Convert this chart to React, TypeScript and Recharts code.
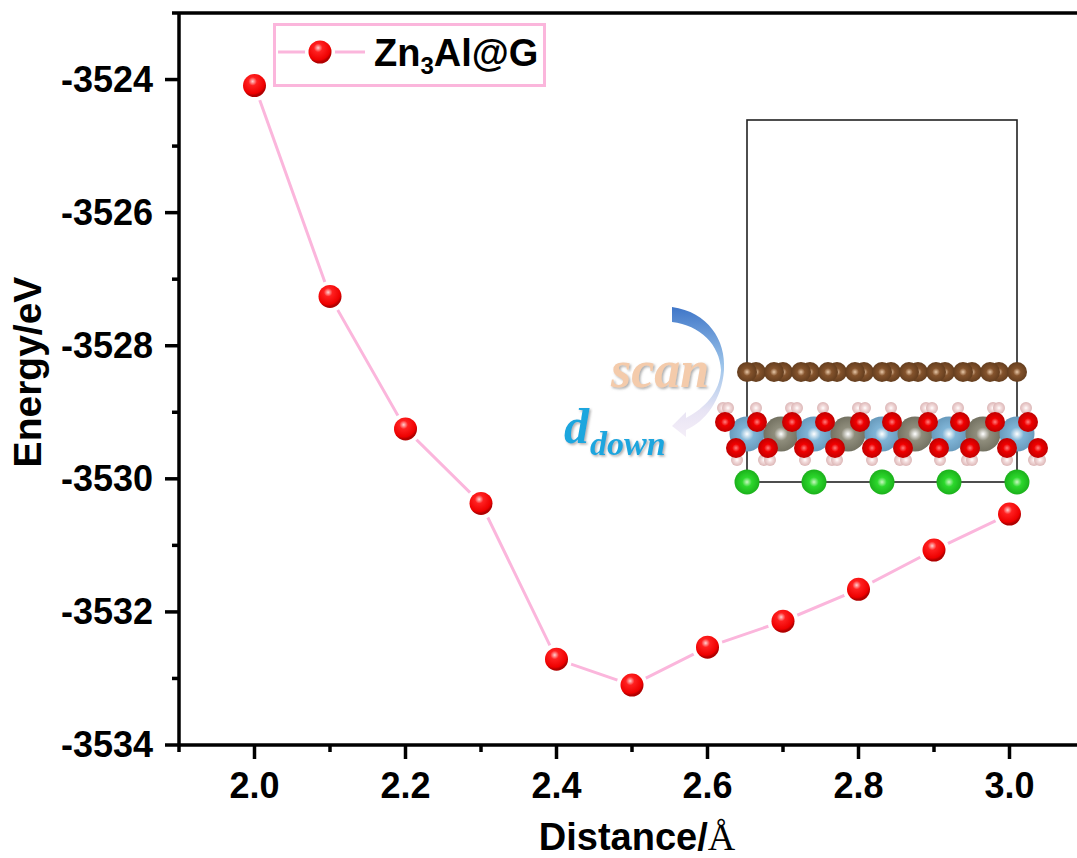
import React from 'react';
import { LineChart, Line, XAxis, YAxis, ReferenceLine, Legend, Label } from 'recharts';

const distances = [2.0, 2.1, 2.2, 2.3, 2.4, 2.5, 2.6, 2.7, 2.8, 2.9, 3.0];
const energies = [-3524.09, -3527.26, -3529.25, -3530.37, -3532.71, -3533.1, -3532.53, -3532.14, -3531.66, -3531.07, -3530.53];
const xTicks = [1.9, 2.0, 2.1, 2.2, 2.3, 2.4, 2.5, 2.6, 2.7, 2.8, 2.9, 3.0, 3.1];
const xMajor = ['2.0', '2.2', '2.4', '2.6', '2.8', '3.0'];
const yTicks = [-3534, -3533, -3532, -3531, -3530, -3529, -3528, -3527, -3526, -3525, -3524, -3523];
const yMajor = [-3534, -3532, -3530, -3528, -3526, -3524];
const seriesName = 'Zn3Al@G';

const data = distances.map((d, i) => ({ d, e: energies[i] }));

const FONT = '"Liberation Sans", Arial, sans-serif';
const PINK = '#fbb6dc';
const LABEL_SIZE = 36;
const MARKER_R = 11.5;

const XTick = (props: any) => {
  const { x, y, payload } = props;
  const label = payload.value.toFixed(1);
  const major = xMajor.includes(label);
  return (
    <g>
      <line x1={x} x2={x} y1={y} y2={y + (major ? 14 : 7)} stroke="#000" strokeWidth={3.5} />
      {major && (
        <text x={x} y={y + 53} textAnchor="middle" fontFamily={FONT} fontWeight="bold" fontSize={LABEL_SIZE} fill="#000">
          {label}
        </text>
      )}
    </g>
  );
};

const YTick = (props: any) => {
  const { x, y, payload } = props;
  const major = yMajor.includes(payload.value);
  return (
    <g>
      <line x1={x} x2={x - (major ? 14 : 7)} y1={y} y2={y} stroke="#000" strokeWidth={3.5} />
      {major && (
        <text x={x - 26} y={y + 12} textAnchor="end" fontFamily={FONT} fontWeight="bold" fontSize={LABEL_SIZE} fill="#000">
          {payload.value}
        </text>
      )}
    </g>
  );
};

const Sphere = ({ cx, cy }: any) => (
  <g>
    <circle cx={cx} cy={cy} r={MARKER_R + 4} fill="#fff" />
    <circle cx={cx} cy={cy} r={MARKER_R} fill="url(#redBall)" />
  </g>
);

const LegendBox = () => (
  <svg width={274} height={66} style={{ display: 'block' }}>
    <defs>
      <radialGradient id="redBallLegend" cx="0.42" cy="0.32" r="0.62">
        <stop offset="0" stopColor="#ffd0d0" />
        <stop offset="0.3" stopColor="#ff2020" />
        <stop offset="0.85" stopColor="#ee0000" />
        <stop offset="1" stopColor="#b00000" />
      </radialGradient>
    </defs>
    <rect x={1.5} y={1.5} width={270} height={61} fill="#fff" stroke={PINK} strokeWidth={3} />
    <line x1={5} x2={92} y1={29} y2={29} stroke={PINK} strokeWidth={3} />
    <circle cx={47} cy={29} r={15} fill="#fff" />
    <circle cx={47} cy={29} r={MARKER_R} fill="url(#redBallLegend)" />
    <text x={101} y={43} fontFamily={FONT} fontWeight="bold" fontSize={38} fill="#000">
      Zn<tspan fontSize={24} dy={8}>3</tspan><tspan dy={-8}>Al@G</tspan>
    </text>
  </svg>
);

// structure inset, picture coordinates
const carbonX = [0, 27, 54, 81, 108, 135, 162, 189, 216, 243, 270];
const metalX = [747, 781, 814, 848, 882, 915, 949, 983, 1017];
const greenX = [747, 814, 882, 949, 1017];
const oxyUp = [725, 757, 792, 825, 860, 892, 928, 960, 995, 1028];
const oxyDown = [736, 768, 804, 835, 872, 903, 939, 970, 1007, 1038];
const hydUp = [723, 728, 756, 791, 797, 823, 858, 865, 891, 926, 932, 958, 993, 999, 1026];
const hydDown = [737, 764, 770, 805, 832, 837, 872, 900, 906, 940, 967, 972, 1007, 1034, 1040];

const grad = (id: string, hi: string, mid: string, lo: string) => (
  <radialGradient id={id} cx="0.5" cy="0.5" r="0.55">
    <stop offset="0" stopColor={hi} />
    <stop offset="0.35" stopColor={mid} />
    <stop offset="1" stopColor={lo} />
  </radialGradient>
);

const Inset = () => (
  <svg width={1077} height={858} style={{ position: 'absolute', left: 0, top: 0, pointerEvents: 'none' }}>
    <defs>
      {grad('cBall', '#e8c8a8', '#84532c', '#5f3a1c')}
      {grad('blueBall', '#ffffff', '#7fb4d6', '#6496b8')}
      {grad('greyBall', '#ffffff', '#8f8d7c', '#6f6d5d')}
      {grad('greenBall', '#c8f8c0', '#2cd82c', '#18aa18')}
      {grad('oBall', '#ff8080', '#f00000', '#b80000')}
      {grad('hBall', '#ffffff', '#f3dcdc', '#d8b0b0')}
      <linearGradient id="arrowFade" x1="0" y1="0" x2="0" y2="1">
        <stop offset="0" stopColor="#3f76c8" />
        <stop offset="0.45" stopColor="#9cc4ea" />
        <stop offset="0.8" stopColor="#e8e4f4" />
        <stop offset="1" stopColor="#f4eef8" />
      </linearGradient>
      <filter id="softShadow" x="-10%" y="-10%" width="120%" height="120%">
        <feDropShadow dx="1.5" dy="1.5" stdDeviation="1" floodColor="#777" floodOpacity="0.6" />
      </filter>
    </defs>
    <rect x={747} y={120} width={270} height={362} fill="none" stroke="#222" strokeWidth={1.6} />
    {carbonX.slice(0, 10).map((dx) => <circle key={dx} cx={756 + dx} cy={372} r={10} fill="url(#cBall)" />)}
    {carbonX.map((dx) => <circle key={dx} cx={747 + dx} cy={372} r={10} fill="url(#cBall)" />)}
    {hydUp.map((x, i) => <circle key={i} cx={x} cy={408} r={6} fill="url(#hBall)" />)}
    {hydDown.map((x, i) => <circle key={i} cx={x} cy={460} r={6} fill="url(#hBall)" />)}
    {metalX.map((x, i) => (
      <circle key={x} cx={x} cy={434} r={17.5} fill={i % 2 ? 'url(#greyBall)' : 'url(#blueBall)'} />
    ))}
    {oxyUp.map((x) => <circle key={x} cx={x} cy={422} r={10} fill="url(#oBall)" />)}
    {oxyDown.map((x) => <circle key={x} cx={x} cy={448} r={10} fill="url(#oBall)" />)}
    {greenX.map((x) => <circle key={x} cx={x} cy={482} r={12.5} fill="url(#greenBall)" />)}
    <path
      d="M672 307 C708 312 726 340 724 370 C722 400 705 422 686 430 L686 437 L672 426 L686 412 L686 418 C705 408 720 392 721 370 C720 345 700 325 672 322 Z"
      fill="url(#arrowFade)"
    />
    <text x={611} y={387} fontFamily='"Liberation Serif", serif' fontStyle="italic" fontWeight="bold" fontSize={52} fill="#f4cbab" filter="url(#softShadow)">
      scan
    </text>
    <text x={564} y={443} fontFamily='"Liberation Serif", serif' fontStyle="italic" fontWeight="bold" fontSize={50} fill="#1fa6de" filter="url(#softShadow)">
      d
    </text>
    <text x={590} y={455} fontFamily='"Liberation Serif", serif' fontStyle="italic" fontWeight="bold" fontSize={34} fill="#1fa6de" filter="url(#softShadow)">
      down
    </text>
  </svg>
);

const XTitle = () => (
  <text x={637} y={850} textAnchor="middle" fontFamily={FONT} fontWeight="bold" fontSize={38} fill="#000">
    Distance/<tspan fontFamily='"Liberation Serif", serif' fontWeight="normal">Å</tspan>
  </text>
);

const YTitle = () => (
  <text x={41} y={372} transform="rotate(-90 41 372)" textAnchor="middle" fontFamily={FONT} fontWeight="bold" fontSize={39} fill="#000">
    Energy/eV
  </text>
);

export default function App() {
  return (
    <div style={{ position: 'fixed', left: 0, top: 0, width: 1077, height: 858, overflow: 'hidden', background: '#fff' }}>
      <LineChart width={1085} height={858} data={data} margin={{ top: 13, right: 0, bottom: 0, left: 0 }}>
        <defs>
          <radialGradient id="redBall" cx="0.42" cy="0.32" r="0.62">
            <stop offset="0" stopColor="#ffd0d0" />
            <stop offset="0.3" stopColor="#ff2020" />
            <stop offset="0.85" stopColor="#ee0000" />
            <stop offset="1" stopColor="#b00000" />
          </radialGradient>
        </defs>
        <XAxis
          dataKey="d"
          type="number"
          domain={[1.9, 3.1]}
          ticks={xTicks}
          interval={0}
          height={113}
          tick={<XTick />}
          tickLine={false}
          tickSize={0}
          tickMargin={0}
          axisLine={{ stroke: '#000', strokeWidth: 3.5 }}
        >
          <Label content={<XTitle />} />
        </XAxis>
        <YAxis
          type="number"
          domain={[-3534, -3523]}
          ticks={yTicks}
          interval={0}
          width={179}
          tick={<YTick />}
          tickLine={false}
          tickSize={0}
          tickMargin={0}
          axisLine={{ stroke: '#000', strokeWidth: 3.5 }}
        >
          <Label content={<YTitle />} />
        </YAxis>
        <ReferenceLine y={-3523} stroke="#000" strokeWidth={3.5} />
        <Legend
          layout="horizontal"
          verticalAlign="middle"
          content={<LegendBox />}
          wrapperStyle={{ position: 'absolute', left: 273, top: 23, width: 274, height: 66 }}
        />
        <Line
          dataKey="e"
          name={seriesName}
          stroke={PINK}
          strokeWidth={3}
          dot={<Sphere />}
          activeDot={false}
          isAnimationActive={false}
        />
      </LineChart>
      <Inset />
    </div>
  );
}
